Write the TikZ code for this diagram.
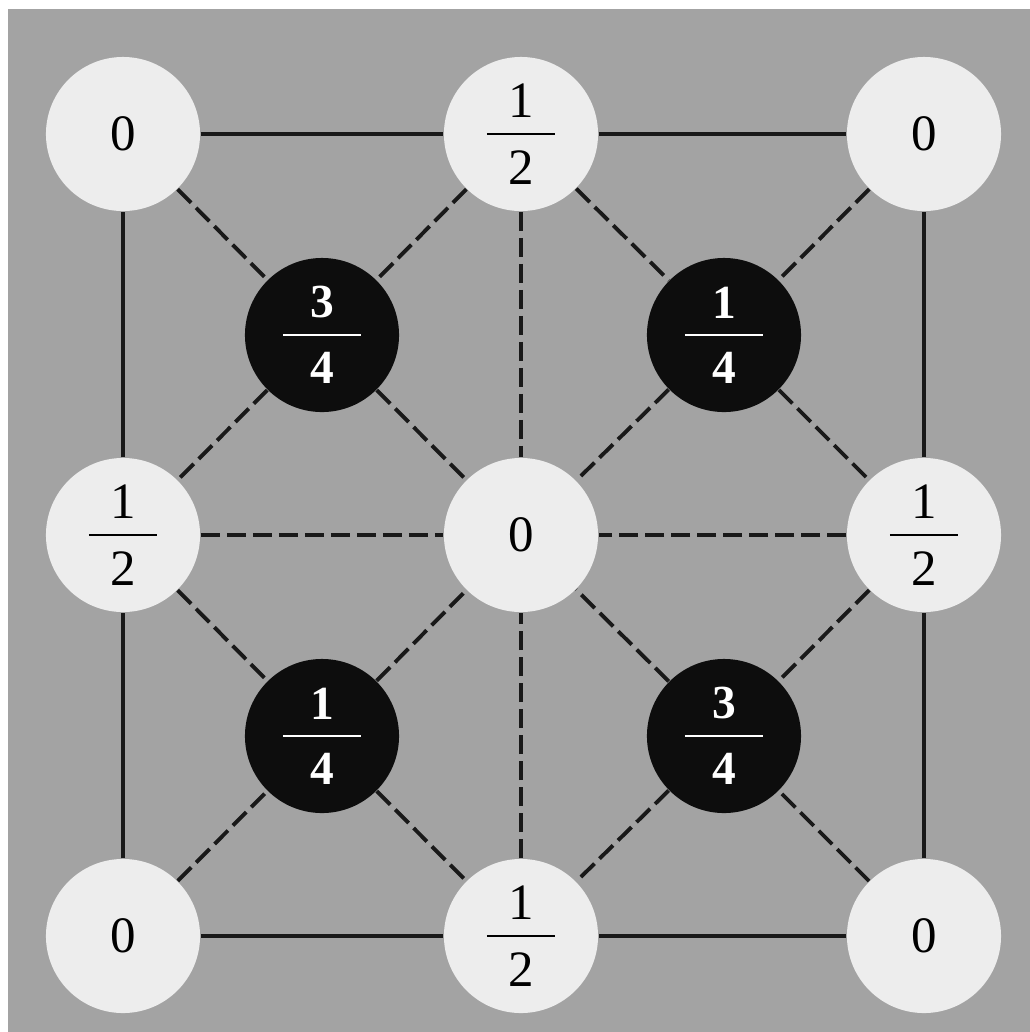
\documentclass[tikz,border=0pt]{standalone}
\usepackage{fontspec}
\setmainfont{Liberation Serif}
\definecolor{paper}{gray}{0.64}
\definecolor{disc}{gray}{0.93}
\definecolor{ink}{gray}{0.1}
% stacked fraction: numerator, denominator, bar width
\newcommand\frc[3]{$\vcenter{\hbox to #3{\hss#1\hss}\kern4.5pt\hrule height0.6pt\kern4.5pt\hbox to #3{\hss#2\hss}}$}
\begin{document}
\begin{tikzpicture}[x=0.01cm,y=-0.01cm,
  wsite/.style={circle,fill=disc,minimum size=1.54cm,inner sep=0pt,font=\fontsize{14.5}{17}\selectfont},
  bsite/.style={circle,fill=black!95,text=white,minimum size=1.54cm,inner sep=0pt,font=\bfseries\fontsize{13.5}{16}\selectfont},
  frame/.style={ink,line width=1pt},
  link/.style={ink,line width=1.1pt,dash pattern=on 5.4pt off 2pt}]
\useasboundingbox (0,0) rectangle (1030,1032);
% grey sheet
\fill[paper] (8,9) rectangle (1030,1032);

% light sites
\foreach \n/\x/\y/\t in {tl/123/134/0, tm/521/134/\frc{1}{2}{0.68cm}, tr/924/134/0,
    ml/123/535/\frc{1}{2}{0.68cm}, c/521/535/0, mr/924/535/\frc{1}{2}{0.68cm},
    bl/123/936/0, bm/521/936/\frc{1}{2}{0.68cm}, br/924/936/0}
  \node[wsite] (\n) at (\x,\y) {\t};

% dark sites
\foreach \n/\x/\y/\t in {b1/322/335/\frc{3}{4}{0.78cm}, b2/724/335/\frc{1}{4}{0.78cm},
    b3/322/736/\frc{1}{4}{0.78cm}, b4/724/736/\frc{3}{4}{0.78cm}}
  \node[bsite] (\n) at (\x,\y) {\t};

% outer square
\foreach \a/\b in {tl/tm, tm/tr, tr/mr, mr/br, br/bm, bm/bl, bl/ml, ml/tl}
  \draw[frame] (\a) -- (\b);

% dashed bonds
\foreach \a/\b in {tm/c, ml/c, mr/c, bm/c,
    tl/b1, b1/c, tr/b2, b2/c, bl/b3, b3/c, br/b4, b4/c,
    tm/b1, b1/ml, tm/b2, b2/mr, ml/b3, b3/bm, mr/b4, b4/bm}
  \draw[link] (\a) -- (\b);
\end{tikzpicture}
\end{document}
